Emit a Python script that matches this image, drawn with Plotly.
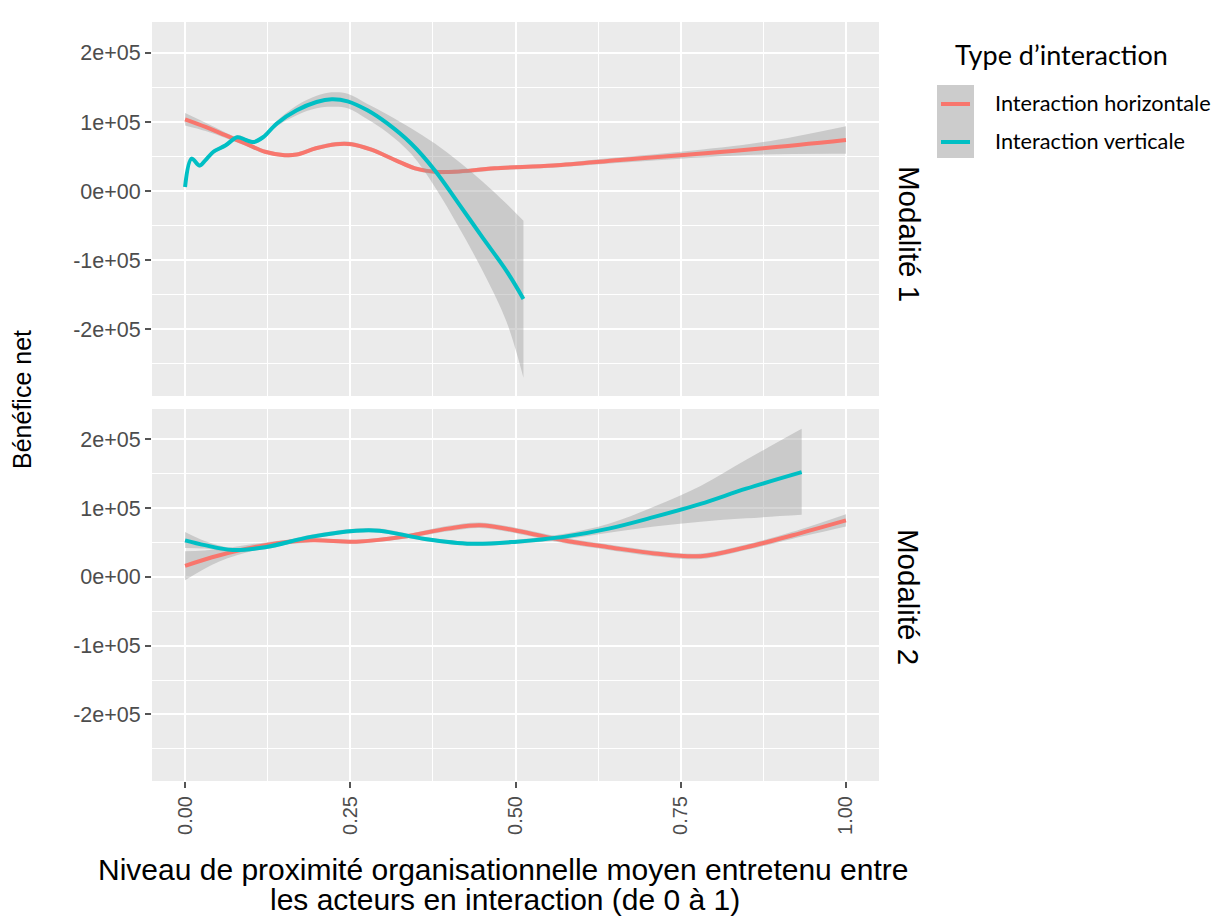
import plotly.graph_objects as go

# ---------------- data (values in units of 1e+05) ----------------
# Modalité 1 - Interaction horizontale
m1_h_x = [0.0, 0.031, 0.061, 0.091, 0.121, 0.151, 0.169, 0.198, 0.228, 0.252, 0.282, 0.318,
          0.348, 0.378, 0.408, 0.468, 0.557, 0.658, 0.75, 0.875, 1.0]
m1_h_y = [1.04, 0.93, 0.81, 0.69, 0.57, 0.52, 0.53, 0.62, 0.68, 0.68, 0.60, 0.45,
          0.33, 0.28, 0.28, 0.33, 0.37, 0.45, 0.52, 0.62, 0.74]
m1_h_lo = [0.95, 0.87, 0.77, 0.66, 0.54, 0.49, 0.50, 0.59, 0.65, 0.65, 0.57, 0.42,
           0.30, 0.25, 0.25, 0.30, 0.34, 0.41, 0.47, 0.53, 0.54]
m1_h_hi = [1.13, 0.99, 0.85, 0.72, 0.60, 0.55, 0.56, 0.65, 0.71, 0.71, 0.63, 0.48,
           0.36, 0.31, 0.31, 0.36, 0.40, 0.49, 0.57, 0.71, 0.94]

# Modalité 1 - Interaction verticale
m1_v_x = [0.0, 0.010, 0.022, 0.031, 0.043, 0.061, 0.079, 0.092, 0.103, 0.118, 0.139, 0.169,
          0.199, 0.222, 0.246, 0.276, 0.306, 0.342, 0.378, 0.414, 0.45, 0.486, 0.512]
m1_v_y = [0.06, 0.47, 0.37, 0.45, 0.57, 0.66, 0.78, 0.74, 0.71, 0.78, 0.98, 1.17,
          1.29, 1.33, 1.30, 1.17, 0.98, 0.69, 0.30, -0.18, -0.67, -1.15, -1.56]
m1_v_lo = [0.02, 0.44, 0.34, 0.42, 0.54, 0.63, 0.75, 0.71, 0.68, 0.75, 0.94, 1.10,
           1.20, 1.22, 1.20, 1.04, 0.85, 0.54, 0.06, -0.52, -1.15, -1.88, -2.70]
m1_v_hi = [0.10, 0.50, 0.40, 0.48, 0.60, 0.69, 0.81, 0.77, 0.74, 0.81, 1.02, 1.24,
           1.38, 1.43, 1.41, 1.26, 1.11, 0.91, 0.69, 0.43, 0.14, -0.18, -0.43]

# Modalité 2 - Interaction horizontale
m2_h_x = [0.0, 0.051, 0.121, 0.190, 0.259, 0.329, 0.398, 0.446, 0.502, 0.572, 0.641, 0.710,
          0.780, 0.849, 0.918, 1.0]
m2_h_y = [0.16, 0.31, 0.46, 0.53, 0.51, 0.58, 0.70, 0.75, 0.67, 0.53, 0.43, 0.34,
          0.30, 0.43, 0.60, 0.82]
m2_h_lo = [-0.05, 0.22, 0.42, 0.50, 0.48, 0.55, 0.66, 0.71, 0.63, 0.49, 0.39, 0.30,
           0.26, 0.39, 0.55, 0.73]
m2_h_hi = [0.37, 0.40, 0.50, 0.56, 0.54, 0.61, 0.74, 0.79, 0.71, 0.57, 0.47, 0.38,
           0.34, 0.47, 0.65, 0.91]

# Modalité 2 - Interaction verticale
m2_v_x = [0.0, 0.030, 0.072, 0.121, 0.190, 0.259, 0.294, 0.363, 0.433, 0.502, 0.572, 0.641,
          0.710, 0.780, 0.849, 0.933]
m2_v_y = [0.53, 0.46, 0.39, 0.43, 0.58, 0.67, 0.67, 0.55, 0.48, 0.51, 0.58, 0.70,
          0.87, 1.06, 1.28, 1.52]
m2_v_lo = [0.42, 0.41, 0.36, 0.40, 0.55, 0.64, 0.64, 0.52, 0.45, 0.48, 0.54, 0.64,
           0.73, 0.80, 0.85, 0.90]
m2_v_hi = [0.65, 0.52, 0.42, 0.46, 0.61, 0.70, 0.70, 0.58, 0.51, 0.54, 0.62, 0.77,
           1.02, 1.32, 1.70, 2.15]

series_names = ["Interaction horizontale", "Interaction verticale"]
facet_labels = ["Modalité 1", "Modalité 2"]
y_tickvals = [-2, -1, 0, 1, 2]
y_ticktext = ["-2e+05", "-1e+05", "0e+00", "1e+05", "2e+05"]
y_minor = [-2.5, -1.5, -0.5, 0.5, 1.5, 2.5]
x_tickvals = [0, 0.25, 0.5, 0.75, 1.0]
x_ticktext = ["0.00", "0.25", "0.50", "0.75", "1.00"]
x_minor = [0.125, 0.375, 0.625, 0.875]

# ---------------- styling ----------------
RED = "#F8766D"
TEAL = "#00BFC4"
RIBBON = "rgba(153,153,153,0.4)"
PANEL = "#EBEBEB"
TICKCOL = "#4D4D4D"
ARIAL = "Liberation Sans, Arial, sans-serif"
LEG_FONT = "Lato, Carlito, Calibri, sans-serif"

OFF = 8  # page body margin
W, H = 1211, 914
L, R, T, B = 144, 340, 14, 141
PW = W - L - R
PH = H - T - B


def px(X):
    return (X - OFF - L) / PW


def py(Y):
    return (H - B - (Y - OFF)) / PH


fig = go.Figure()


def add_group(x, y, lo, hi, color, name, xa, ya):
    fig.add_trace(go.Scatter(x=x, y=lo, mode="lines", line=dict(width=0, shape="spline"),
                             showlegend=False, hoverinfo="skip", xaxis=xa, yaxis=ya))
    fig.add_trace(go.Scatter(x=x, y=hi, mode="lines", line=dict(width=0, shape="spline"),
                             fill="tonexty", fillcolor=RIBBON, showlegend=False,
                             hoverinfo="skip", xaxis=xa, yaxis=ya))
    fig.add_trace(go.Scatter(x=x, y=y, mode="lines", name=name,
                             line=dict(color=color, width=4, shape="spline"),
                             showlegend=False, xaxis=xa, yaxis=ya))


add_group(m1_h_x, m1_h_y, m1_h_lo, m1_h_hi, RED, series_names[0], "x", "y")
add_group(m1_v_x, m1_v_y, m1_v_lo, m1_v_hi, TEAL, series_names[1], "x", "y")
add_group(m2_h_x, m2_h_y, m2_h_lo, m2_h_hi, RED, series_names[0], "x2", "y2")
add_group(m2_v_x, m2_v_y, m2_v_lo, m2_v_hi, TEAL, series_names[1], "x2", "y2")

top_dom = [py(396), 1.0]
bot_dom = [0.0, py(409)]

common_x = dict(range=[-0.05, 1.05], showgrid=True, gridcolor="white", gridwidth=2,
                zeroline=False, tickvals=x_tickvals, ticktext=x_ticktext,
                minor=dict(tickvals=x_minor, showgrid=True, gridcolor="white", gridwidth=1, ticks=""))
common_y = dict(showgrid=True, gridcolor="white", gridwidth=2, zeroline=False,
                tickvals=y_tickvals, ticktext=y_ticktext,
                ticks="outside", ticklen=6, tickwidth=1.5, tickcolor="#555555",
                tickfont=dict(family=ARIAL, size=21.5, color=TICKCOL),
                minor=dict(tickvals=y_minor, showgrid=True, gridcolor="white", gridwidth=1, ticks=""))

fig.update_layout(
    width=W, height=H,
    margin=dict(l=L, r=R, t=T, b=B),
    paper_bgcolor="white",
    plot_bgcolor=PANEL,
    showlegend=False,
    xaxis=dict(**common_x, anchor="y", domain=[0, 1], showticklabels=False, ticks="", matches="x2"),
    xaxis2=dict(**common_x, anchor="y2", domain=[0, 1], ticks="outside", ticklen=6, tickwidth=1.5,
                tickcolor="#555555", tickangle=-90,
                tickfont=dict(family=ARIAL, size=20, color=TICKCOL)),
    yaxis=dict(**common_y, domain=top_dom, range=[-2.965, 2.448]),
    yaxis2=dict(**common_y, domain=bot_dom, range=[-2.967, 2.438]),
)

annotations = []
# axis titles
annotations.append(dict(text="Bénéfice net", x=px(22), y=py(400), xref="paper", yref="paper",
                        textangle=-90, showarrow=False, xanchor="center", yanchor="middle",
                        font=dict(family=ARIAL, size=25, color="black")))
annotations.append(dict(text="Niveau de proximité organisationnelle moyen entretenu entre",
                        x=px(503), y=py(870), xref="paper", yref="paper", showarrow=False,
                        xanchor="center", yanchor="middle",
                        font=dict(family=ARIAL, size=30, color="black")))
annotations.append(dict(text="les acteurs en interaction (de 0 à 1)",
                        x=px(505), y=py(899), xref="paper", yref="paper", showarrow=False,
                        xanchor="center", yanchor="middle",
                        font=dict(family=ARIAL, size=30, color="black")))
# facet strip labels
annotations.append(dict(text=facet_labels[0], x=px(909), y=py(234), xref="paper", yref="paper",
                        textangle=90, showarrow=False, xanchor="center", yanchor="middle",
                        font=dict(family=ARIAL, size=29.5, color="black")))
annotations.append(dict(text=facet_labels[1], x=px(909), y=py(597), xref="paper", yref="paper",
                        textangle=90, showarrow=False, xanchor="center", yanchor="middle",
                        font=dict(family=ARIAL, size=29.5, color="black")))
# legend
annotations.append(dict(text="Type d’interaction", x=px(953), y=py(54), xref="paper", yref="paper",
                        showarrow=False, xanchor="left", yanchor="middle",
                        font=dict(family=LEG_FONT, size=27, color="black")))
annotations.append(dict(text=series_names[0], x=px(993), y=py(103), xref="paper", yref="paper",
                        showarrow=False, xanchor="left", yanchor="middle",
                        font=dict(family=LEG_FONT, size=21.7, color="black")))
annotations.append(dict(text=series_names[1], x=px(993), y=py(141), xref="paper", yref="paper",
                        showarrow=False, xanchor="left", yanchor="middle",
                        font=dict(family=LEG_FONT, size=21.7, color="black")))
fig.update_layout(annotations=annotations)

shapes = [
    dict(type="rect", xref="paper", yref="paper", x0=px(937), x1=px(974), y0=py(158), y1=py(85),
         fillcolor="#CCCCCC", line=dict(width=0), layer="above"),
    dict(type="line", xref="paper", yref="paper", x0=px(941), x1=px(970), y0=py(104), y1=py(104),
         line=dict(color=RED, width=4), layer="above"),
    dict(type="line", xref="paper", yref="paper", x0=px(941), x1=px(970), y0=py(142), y1=py(142),
         line=dict(color=TEAL, width=4), layer="above"),
]
fig.update_layout(shapes=shapes)

fig.write_html("out.html")
